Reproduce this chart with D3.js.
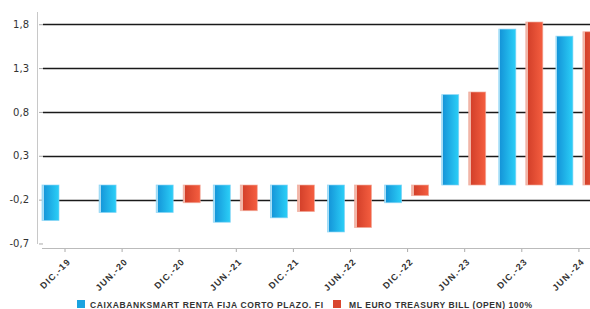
<!DOCTYPE html>
<html>
<head>
<meta charset="utf-8">
<script src="https://cdn.jsdelivr.net/npm/d3@7"></script>
<style>
  html, body { margin: 0; padding: 0; background: #fff; }
  svg { display: block; }
</style>
</head>
<body>
<div id="chart"></div>
<script>
// Data
const categories = ["DIC.-19", "JUN.-20", "DIC.-20", "JUN.-21", "DIC.-21", "JUN.-22", "DIC.-22", "JUN.-23", "DIC.-23", "JUN.-24"];
const fundValues = [-0.40, -0.31, -0.31, -0.42, -0.37, -0.53, -0.20, 1.02, 1.76, 1.68];
const benchValues = [null, null, -0.20, -0.29, -0.30, -0.48, -0.12, 1.05, 1.84, 1.73];
const seriesNames = ["CAIXABANKSMART RENTA FIJA CORTO PLAZO. FI", "ML EURO TREASURY BILL (OPEN) 100%"];
const yTickValues = [-0.66, -0.165, 0.33, 0.825, 1.32, 1.815];
const yTickLabels = ["-0,7", "-0,2", "0,3", "0,8", "1,3", "1,8"];

const W = 590, H = 309;
const plotLeft = 43, plotTop = 12, plotBottom = 248;

const svg = d3.select("#chart").append("svg")
  .attr("width", W).attr("height", H)
  .style("font-family", "'Liberation Sans', Arial, sans-serif");

// gradients for the bars
const defs = svg.append("defs");
function grad(id, stops) {
  const g = defs.append("linearGradient").attr("id", id)
    .attr("x1", "0%").attr("x2", "100%").attr("y1", "0%").attr("y2", "0%");
  stops.forEach(s => g.append("stop").attr("offset", s[0]).attr("stop-color", s[1]));
}
grad("gBlue", [["0%", "#a9def6"], ["9%", "#a9def6"], ["9%", "#1596d9"], ["100%", "#2bcff7"]]);
grad("gRed", [["0%", "#f2b6a8"], ["13%", "#f2b6a8"], ["13%", "#d3402a"], ["100%", "#f55e40"]]);

// scales
const x = d3.scaleBand()
  .domain(categories)
  .range([36.45, 36.45 + 57.1 * categories.length])
  .padding(0);

const sub = d3.scaleBand()
  .domain([0, 1])
  .range([-23, 21])
  .paddingInner(0.37);

const y = d3.scaleLinear()
  .domain([-0.711, 1.953])
  .range([plotBottom, plotTop]);

// gridlines (not the lowest one)
svg.append("g")
  .selectAll("line")
  .data(yTickValues.slice(1))
  .join("line")
  .attr("x1", plotLeft).attr("x2", W)
  .attr("y1", d => Math.round(y(d)) + 0.5).attr("y2", d => Math.round(y(d)) + 0.5)
  .attr("stroke", "#1a1a1a").attr("stroke-width", 1.3);

// y axis
const yAxis = svg.append("g")
  .attr("transform", `translate(${plotLeft},0)`)
  .call(d3.axisLeft(y)
    .tickValues(yTickValues)
    .tickFormat((d, i) => yTickLabels[i])
    .tickSize(4)
    .tickPadding(10));
yAxis.select(".domain").remove();
yAxis.selectAll(".tick line").attr("stroke", "#aaa");
yAxis.selectAll(".tick text")
  .style("font-family", "'DejaVu Sans', Verdana, sans-serif")
  .style("font-size", "10px")
  .attr("fill", "#333");

svg.append("line")
  .attr("x1", 37.5).attr("x2", 37.5)
  .attr("y1", plotTop).attr("y2", 244)
  .attr("stroke", "#c8c8c8").attr("stroke-width", 1);

// bars
const seriesList = [fundValues, benchValues];
const fills = ["url(#gBlue)", "url(#gRed)"];
const edges = ["rgba(130,210,245,0.8)", "rgba(240,170,155,0.8)"];
seriesList.forEach((vals, s) => {
  svg.append("g")
    .selectAll("rect")
    .data(categories.map((c, i) => ({ c, v: vals[i] })).filter(d => d.v !== null))
    .join("rect")
    .attr("x", d => x(d.c) + x.bandwidth() / 2 + sub(s))
    .attr("width", sub.bandwidth())
    .attr("y", d => y(Math.max(0, d.v)))
    .attr("height", d => Math.abs(y(d.v) - y(0)))
    .attr("fill", fills[s])
    .attr("stroke", edges[s])
    .attr("stroke-width", 0.8);
});

// x axis
const xAxis = svg.append("g")
  .attr("transform", `translate(0,${plotBottom})`)
  .call(d3.axisBottom(x).tickSize(4).tickSizeOuter(0));
xAxis.select(".domain").remove();
xAxis.selectAll(".tick line").attr("stroke", "#aaa");
xAxis.selectAll(".tick text")
  .attr("text-anchor", "end")
  .attr("transform", "translate(4,12) rotate(-45)")
  .attr("dy", "0.35em")
  .attr("y", 0)
  .style("font-family", "'Liberation Sans', Arial, sans-serif")
  .style("font-weight", "bold")
  .style("font-size", "9px")
  .style("letter-spacing", "1.1px")
  .attr("fill", "#333");

svg.append("line")
  .attr("x1", plotLeft - 1).attr("x2", W)
  .attr("y1", plotBottom + 0.5).attr("y2", plotBottom + 0.5)
  .attr("stroke", "#bbb");

// legend
const legend = [
  { name: seriesNames[0], color: "#1aa3e0", sx: 77, tx: 90, tw: 233 },
  { name: seriesNames[1], color: "#d9452e", sx: 333, tx: 349, tw: 183 }
];
const lg = svg.append("g");
legend.forEach(l => {
  lg.append("rect").attr("x", l.sx).attr("y", 300).attr("width", 8).attr("height", 8).attr("fill", l.color);
  lg.append("text")
    .attr("x", l.tx).attr("y", 307.5)
    .attr("textLength", l.tw)
    .attr("lengthAdjust", "spacing")
    .style("font-size", "8.5px")
    .style("font-weight", "bold")
    .attr("fill", "#333")
    .text(l.name);
});
</script>
</body>
</html>
